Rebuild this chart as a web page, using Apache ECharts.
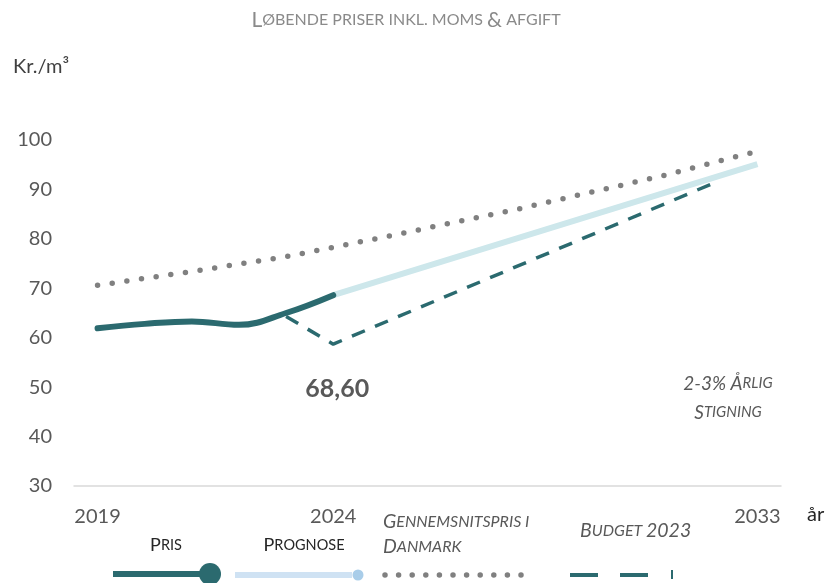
<!DOCTYPE html>
<html>
<head>
<meta charset="utf-8">
<script src="https://cdn.jsdelivr.net/npm/echarts@6/dist/echarts.min.js"></script>
<style>
html,body{margin:0;padding:0;background:#fff;}
#chart{width:831px;height:583px;}
</style>
</head>
<body>
<div id="chart"></div>
<script>
// ---- data ----
const priceYears = [2019, 2020, 2021, 2022, 2023, 2024];
const priceValues = [61.9, 62.8, 63.3, 62.6, 65.0, 68.6];

const forecastYears = [2024, 2033];
const forecastValues = [68.6, 95.1];

const avgYears = [2019, 2020, 2021, 2022, 2023, 2024, 2025, 2026, 2027, 2028, 2029, 2030, 2031, 2032, 2033];
const avgValues = [70.6, 72.0, 73.4, 74.9, 76.4, 78.3, 80.2, 82.2, 84.2, 86.2, 88.4, 90.6, 92.8, 95.3, 97.7];

const budgetYears = [2023, 2024, 2032];
const budgetValues = [64.3, 58.7, 91.0];

const xTickLabels = [2019, 2024, 2033];
const yTicks = [30, 40, 50, 60, 70, 80, 90, 100];

const TEAL = '#2b6a6f';
const LIGHT = '#cde7eb';
const DOT = '#808080';
const TXT = '#595959';
const FONT = 'Lato, "Open Sans", sans-serif';

const pairs = (xs, ys) => xs.map((x, i) => [x, ys[i]]);

const priceData = pairs(priceYears, priceValues).map((p, i, arr) => {
  if (i === arr.length - 1) {
    return {
      value: p,
      label: {
        show: true,
        position: 'bottom',
        distance: 80,
        offset: [4, 0],
        formatter: (prm) => prm.value[1].toFixed(2).replace('.', ','),
        fontFamily: FONT, fontSize: 25, fontWeight: 'bold', color: TXT
      }
    };
  }
  return p;
});

// small-caps helper for rich text
function sc(str) {
  let out = '';
  for (const ch of str) {
    if (ch === ' ') { out += '{s| }'; continue; }
    const isLower = ch !== ch.toUpperCase();
    out += isLower ? '{s|' + ch.toUpperCase() + '}' : '{b|' + ch + '}';
  }
  return out;
}
function rich(big, small, color, style) {
  return {
    b: {fontSize: big, fontFamily: FONT, fill: color, fontStyle: style || 'normal'},
    s: {fontSize: small, fontFamily: FONT, fill: color, fontStyle: style || 'normal'}
  };
}

const chart = echarts.init(document.getElementById('chart'), null, {renderer: 'canvas'});

const option = {
  animation: false,
  backgroundColor: '#ffffff',
  grid: {left: 74, right: 50, top: 140, bottom: 97, containLabel: false},
  xAxis: {
    type: 'value',
    min: 2018.5, max: 2033.5,
    axisLine: {show: true, lineStyle: {color: '#d9d9d9', width: 1.5}},
    axisTick: {show: false},
    splitLine: {show: false},
    axisLabel: {
      customValues: xTickLabels,
      margin: 21,
      color: TXT, fontFamily: FONT, fontSize: 20,
      formatter: (v) => String(v)
    }
  },
  yAxis: {
    type: 'value',
    min: yTicks[0], max: yTicks[yTicks.length - 1], interval: 10,
    axisLine: {show: false},
    axisTick: {show: false},
    splitLine: {show: false},
    axisLabel: {margin: 22, color: TXT, fontFamily: FONT, fontSize: 20}
  },
  series: [
    {
      name: 'Gennemsnitspris i Danmark',
      type: 'line',
      data: pairs(avgYears, avgValues),
      showSymbol: false, symbol: 'none',
      lineStyle: {color: DOT, width: 5.5, type: [0, 14.8], cap: 'round'},
      z: 1
    },
    {
      name: 'Prognose',
      type: 'line',
      data: pairs(forecastYears, forecastValues),
      showSymbol: false, symbol: 'none',
      lineStyle: {color: LIGHT, width: 6, cap: 'butt'},
      z: 2
    },
    {
      name: 'Budget 2023',
      type: 'line',
      data: pairs(budgetYears, budgetValues),
      showSymbol: false, symbol: 'none',
      lineStyle: {color: TEAL, width: 3.5, type: [14, 11], cap: 'butt'},
      z: 3
    },
    {
      name: 'Pris',
      type: 'line',
      data: priceData,
      smooth: 0.4,
      symbol: 'circle', symbolSize: 2,
      showSymbol: true,
      itemStyle: {color: TEAL},
      lineStyle: {color: TEAL, width: 6, cap: 'round'},
      z: 4
    }
  ],
  graphic: [
    // title
    {type: 'text', x: 406, y: 20,
      style: {text: '{b|L}{s|ØBENDE PRISER INKL. MOMS }{b|&}{s| AFGIFT}', rich: rich(21, 16, '#8a8a8a'), align: 'center', verticalAlign: 'middle'}},
    // y axis name
    {type: 'text', left: 13, top: 57,
      style: {text: 'Kr./m³', fontFamily: FONT, fontSize: 20, fill: '#404040'}},
    // x axis name
    {type: 'text', left: 807, top: 505,
      style: {text: 'år', fontFamily: FONT, fontSize: 20, fill: '#262626'}},
    // annotation
    {type: 'text', x: 728, y: 398,
      style: {text: '{b|2-3% Å}{s|RLIG}\n{b|S}{s|TIGNING}', rich: {
        b: {fontSize: 19, fontFamily: FONT, fill: TXT, fontStyle: 'italic', lineHeight: 29, align: 'center'},
        s: {fontSize: 15, fontFamily: FONT, fill: TXT, fontStyle: 'italic', lineHeight: 29, align: 'center'}
      }, align: 'center', verticalAlign: 'middle'}},
    // legend texts
    {type: 'text', x: 166, y: 545,
      style: {text: sc('Pris'), rich: rich(18, 14.5, '#262626'), align: 'center', verticalAlign: 'middle'}},
    {type: 'text', x: 304, y: 545,
      style: {text: sc('Prognose'), rich: rich(18, 14.5, '#262626'), align: 'center', verticalAlign: 'middle'}},
    {type: 'text', x: 383, y: 522,
      style: {text: sc('Gennemsnitspris i'), rich: rich(19.5, 16, TXT, 'italic'), align: 'left', verticalAlign: 'middle'}},
    {type: 'text', x: 383, y: 547,
      style: {text: sc('Danmark'), rich: rich(19.5, 16, TXT, 'italic'), align: 'left', verticalAlign: 'middle'}},
    {type: 'text', x: 580, y: 531,
      style: {text: '{b|B}{s|UDGET }{b|2023}', rich: rich(19.5, 16, TXT, 'italic'), align: 'left', verticalAlign: 'middle'}},
    // legend icons
    {type: 'line', shape: {x1: 113, y1: 574, x2: 205, y2: 574}, style: {stroke: TEAL, lineWidth: 6}},
    {type: 'circle', shape: {cx: 210, cy: 574, r: 11}, style: {fill: TEAL}},
    {type: 'line', shape: {x1: 235, y1: 575, x2: 352, y2: 575}, style: {stroke: '#cfe2f3', lineWidth: 6}},
    {type: 'circle', shape: {cx: 358, cy: 575, r: 5.5}, style: {fill: '#a9cde9'}},
    {type: 'line', shape: {x1: 385, y1: 575, x2: 522, y2: 575}, style: {stroke: DOT, lineWidth: 5.5, lineDash: [0, 13.6], lineCap: 'round'}},
    {type: 'line', shape: {x1: 570, y1: 575, x2: 650, y2: 575}, style: {stroke: TEAL, lineWidth: 4, lineDash: [28, 22]}},
    {type: 'line', shape: {x1: 672, y1: 570, x2: 672, y2: 579}, style: {stroke: TEAL, lineWidth: 2}}
  ]
};
chart.setOption(option);
</script>
</body>
</html>
